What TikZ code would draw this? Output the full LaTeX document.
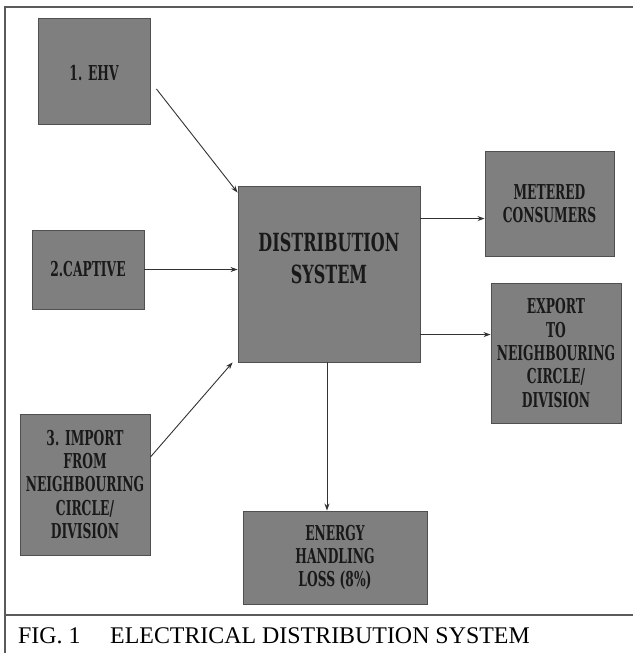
\documentclass[tikz,border=0pt]{standalone}
\usepackage{fontspec}
\setmainfont{Liberation Serif}
\newfontfamily\boxfont[FakeStretch=0.6]{DejaVu Serif}
\newfontfamily\bigboxfont[FakeStretch=0.64]{DejaVu Serif}
\usetikzlibrary{arrows.meta,calc}
\definecolor{boxfill}{RGB}{127,127,127}
\definecolor{boxline}{RGB}{80,80,80}
\definecolor{framecol}{RGB}{90,90,90}
\definecolor{arrcol}{RGB}{50,50,50}
\definecolor{txtcol}{RGB}{25,25,25}
\tikzset{
  gbox/.style={draw=boxline, fill=boxfill, line width=0.9pt, rectangle, inner sep=0pt},
  btext/.style={text=txtcol, align=center, inner sep=0pt, font=\boxfont\bfseries\fontsize{20.5}{23.3}\selectfont},
  conn/.style={draw=arrcol, line width=0.9pt, -{Stealth[length=7pt,width=5pt]}},
  framel/.style={draw=framecol, line width=2pt}
}
\begin{document}
\begin{tikzpicture}[x=1pt,y=-1pt]
\useasboundingbox (0,0) rectangle (633,653);
% frame
\draw[framel] (5,653) -- (5,7) -- (633,7);
\draw[framel] (5,615) -- (633,615);
% boxes
\node[gbox, minimum width=112pt, minimum height=106pt] (ehv) at (94,71) {};
\node[btext] (ehvt) at (94,73) {1. EHV};
\node[gbox, minimum width=112pt, minimum height=79pt] (cap) at (88,269.5) {};
\node[btext] (capt) at (cap.center) {2.CAPTIVE};
\node[gbox, minimum width=130pt, minimum height=141pt] (imp) at (85,484.5) {};
\node[btext] (impt) at (imp.center) {3. IMPORT\\FROM\\NEIGHBOURING\\CIRCLE/\\DIVISION};
\node[gbox, minimum width=182pt, minimum height=176pt] (dist) at (329,274) {};
\node[btext, font=\bigboxfont\bfseries\fontsize{25}{32}\selectfont] (distt) at ([yshift=16pt]dist.center) {DISTRIBUTION\\SYSTEM};
\node[gbox, minimum width=129pt, minimum height=105pt] (met) at (549.5,203.5) {};
\node[btext] (mett) at (met.center) {METERED\\CONSUMERS};
\node[gbox, minimum width=130pt, minimum height=140pt] (exp) at (556,353) {};
\node[btext] (expt) at (exp.center) {EXPORT\\TO\\NEIGHBOURING\\CIRCLE/\\DIVISION};
\node[gbox, minimum width=184pt, minimum height=93pt] (en) at (335,557.5) {};
\node[btext] (ent) at (en.center) {ENERGY\\HANDLING\\LOSS (8\%)};
% connector end points
\coordinate (ehvS) at ($(ehv.east)+(6,18)$);
\coordinate (distA) at ($(dist.north west)+(0,7)$);
\coordinate (impS) at ($(imp.east)+(0,-27.5)$);
\coordinate (distB) at ($(dist.south west)+(-5,0)$);
\coordinate (distC) at ($(dist.north east)+(0,33)$);
\coordinate (distD) at ($(dist.north east)+(0,149)$);
\coordinate (distE) at ($(dist.south)+(-2,0)$);
% connectors
\draw[conn] (ehvS) -- (distA);
\draw[conn] (cap.east) -- (cap.east -| dist.west);
\draw[conn] (impS) -- (distB);
\draw[conn] (distC) -- (distC -| met.west);
\draw[conn] (distD) -- (distD -| exp.west);
\draw[conn] (distE) -- (distE |- en.north);
% caption
\node[anchor=base west, inner sep=0pt, font=\fontsize{23.9}{28}\selectfont, text=black] (fig) at (18,643) {FIG. 1};
\node[anchor=base west, inner sep=0pt, font=\fontsize{23.9}{28}\selectfont, text=black] (title) at (110,643) {ELECTRICAL DISTRIBUTION SYSTEM};
\end{tikzpicture}
\end{document}
